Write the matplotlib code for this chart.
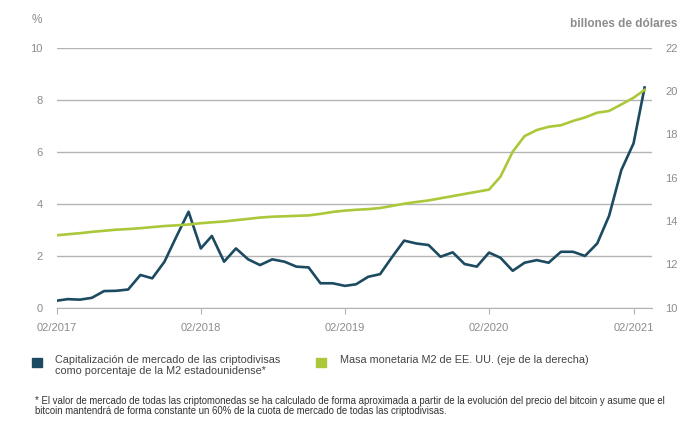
import numpy as np
import pandas as pd
import matplotlib
matplotlib.use("Agg")
import matplotlib.pyplot as plt
from matplotlib.patches import Rectangle

# Datos mensuales 02/2017 - 03/2021
fechas = pd.date_range("2017-02-01", periods=50, freq="MS")

# Capitalizacion cripto en % de la M2 (eje izquierdo)
cripto_pct = [
    0.27, 0.33, 0.31, 0.38, 0.64, 0.65, 0.70, 1.26, 1.13, 1.77,
    2.73, 3.69, 2.28, 2.76, 1.77, 2.28, 1.86, 1.64, 1.86, 1.77,
    1.58, 1.55, 0.94, 0.94, 0.84, 0.90, 1.19, 1.29, 1.96, 2.58,
    2.47, 2.41, 1.96, 2.13, 1.68, 1.58, 2.12, 1.92, 1.42, 1.73,
    1.83, 1.73, 2.15, 2.15, 1.99, 2.47, 3.53, 5.29, 6.32, 8.47,
]

# Masa monetaria M2 EE. UU., billones de dolares (eje derecho)
m2 = [
    13.34, 13.39, 13.44, 13.50, 13.55, 13.60, 13.63, 13.67, 13.72, 13.77,
    13.80, 13.84, 13.90, 13.94, 13.98, 14.04, 14.10, 14.16, 14.20, 14.22,
    14.24, 14.26, 14.33, 14.42, 14.48, 14.52, 14.55, 14.60, 14.70, 14.80,
    14.88, 14.95, 15.05, 15.15, 15.25, 15.35, 15.45, 16.05, 17.20, 17.92,
    18.20, 18.35, 18.42, 18.62, 18.78, 19.00, 19.08, 19.38, 19.69, 20.05,
]

ticks_x = pd.to_datetime(["2017-02-01", "2018-02-01", "2019-02-01", "2020-02-01", "2021-02-01"])
etiquetas_x = ["02/2017", "02/2018", "02/2019", "02/2020", "02/2021"]
ticks_izq = [0, 2, 4, 6, 8, 10]
ticks_der = [10, 12, 14, 16, 18, 20, 22]

AZUL = "#1c4a60"
VERDE = "#abc83a"
GRIS = "#8c8c8c"
SANS = ["Liberation Sans", "DejaVu Sans"]

fig = plt.figure(figsize=(7, 4.32), dpi=100)
ax = fig.add_axes([0.081, 0.2877, 0.85, 0.6019])
ax2 = ax.twinx()

ax.plot(fechas, cripto_pct, color=AZUL, lw=1.9, zorder=3)
ax2.plot(fechas, m2, color=VERDE, lw=1.9, zorder=2)

ax.set_ylim(0, 10)
ax2.set_ylim(10, 22)
ax.set_xlim(pd.Timestamp("2017-02-01"), pd.Timestamp("2021-03-19"))

ax.set_yticks(ticks_izq)
ax.set_yticklabels([str(t) for t in ticks_izq], family=SANS, fontsize=8, color=GRIS)
ax2.set_yticks(ticks_der)
ax2.set_yticklabels([str(t) for t in ticks_der], family=SANS, fontsize=8, color=GRIS)
ax.set_xticks(ticks_x)
ax.set_xticklabels(etiquetas_x, family=SANS, fontsize=8, color=GRIS)

ax.tick_params(axis="y", length=0, pad=10)
ax2.tick_params(axis="y", length=0, pad=10)
ax.tick_params(axis="x", length=4, color="#b0b0b0", direction="out", pad=7)

ax.grid(axis="y", color="#b4b4b4", lw=1.0)
ax.set_axisbelow(True)
for a in (ax, ax2):
    for s in a.spines.values():
        s.set_visible(False)
ax.spines["bottom"].set_visible(True)
ax.spines["bottom"].set_color("#b4b4b4")

fig.text(36.5 / 700, 1 - 20 / 432, "%", ha="center", va="center",
         family=SANS, fontsize=8.5, color=GRIS)
fig.text(677 / 700, 1 - 24 / 432, "billones de dólares", ha="right", va="center",
         family=SANS, fontsize=8.5, fontweight="bold", color=GRIS)

# Leyenda
fig.patches.append(Rectangle((32 / 700, 1 - 367 / 432), 10 / 700, 9 / 432,
                             transform=fig.transFigure, color=AZUL))
fig.patches.append(Rectangle((316 / 700, 1 - 367 / 432), 10 / 700, 9 / 432,
                             transform=fig.transFigure, color=VERDE))
fig.text(55 / 700, 1 - 365.5 / 432,
         "Capitalización de mercado de las criptodivisas\ncomo porcentaje de la M2 estadounidense*",
         ha="left", va="center", family=SANS, fontsize=7.8, color="#444444", linespacing=1.15)
fig.text(340 / 700, 1 - 360 / 432, "Masa monetaria M2 de EE. UU. (eje de la derecha)",
         ha="left", va="center", family=SANS, fontsize=7.8, color="#444444")

fig.text(35 / 700, 1 - 406 / 432,
         "* El valor de mercado de todas las criptomonedas se ha calculado de forma aproximada a partir de la evolución del precio del bitcoin y asume que el\n"
         "bitcoin mantendrá de forma constante un 60% de la cuota de mercado de todas las criptodivisas.",
         ha="left", va="center", family=SANS, fontsize=6.9, color="#333333", linespacing=1.1)

fig.savefig("out.png", dpi=100)
